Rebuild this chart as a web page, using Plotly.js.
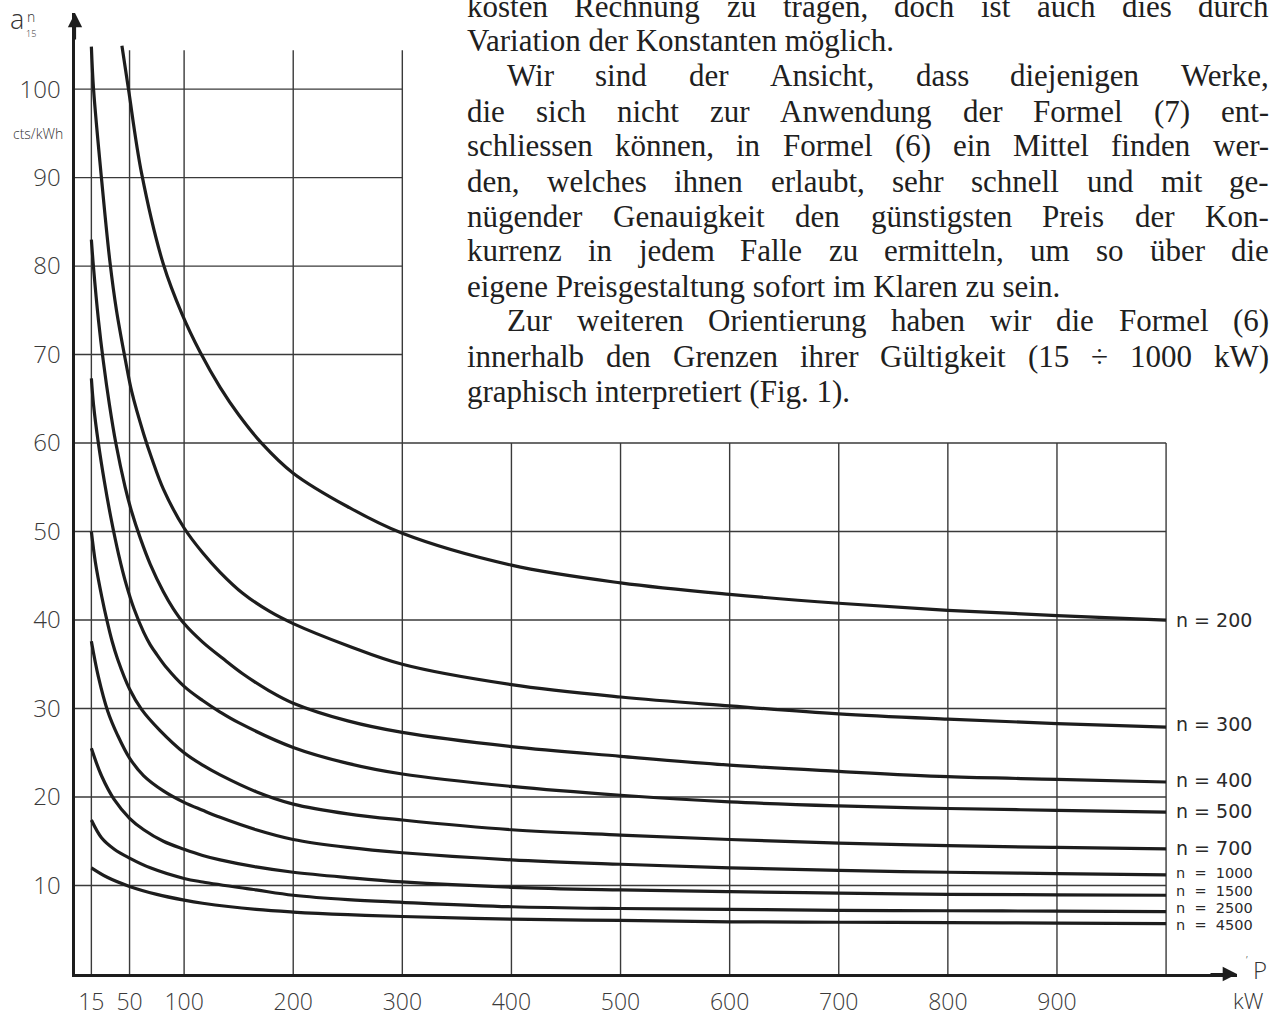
<!DOCTYPE html>
<html><head><meta charset="utf-8">
<script src="https://cdn.plot.ly/plotly-3.0.1.min.js"></script>
<style>html,body{margin:0;padding:0;background:#fff;} #chart{width:1281px;height:1018px;}</style>
</head><body><div id="chart"></div>
<script>
// ---- Data: P (kW) and a_n15 (cts/kWh) ----
const x200 = [43, 49, 61, 81, 98, 115, 133, 150, 171, 200, 250, 300, 400, 500, 600, 700, 800, 900, 1000];
const y200 = [104.9, 100, 90.5, 80.2, 74.6, 70.2, 66.3, 63.2, 60, 56.6, 52.8, 49.8, 46.2, 44.2, 42.9, 41.9, 41.1, 40.5, 40.0];

const x300 = [15, 17, 24.6, 32, 38, 46, 52, 63, 70, 81, 100, 117, 133, 154, 178, 200, 250, 300, 400, 500, 600, 700, 800, 900, 1000];
const y300 = [104.8, 100, 89.5, 80.5, 75, 69.5, 65.8, 61, 58.4, 54.8, 50.4, 47.6, 45.4, 43, 41, 39.6, 37.1, 35.0, 32.7, 31.3, 30.3, 29.4, 28.8, 28.3, 27.9];

const x400 = [15, 17, 21.5, 26, 31.6, 37.4, 46, 52, 60, 69, 81, 90, 100, 117, 135, 154, 178, 200, 250, 300, 400, 500, 600, 700, 800, 900, 1000];
const y400 = [83, 79.8, 73.9, 69.2, 64.3, 60, 55, 52.2, 49.2, 46.3, 43.2, 41.3, 39.6, 37.5, 35.7, 33.9, 32.0, 30.6, 28.6, 27.3, 25.7, 24.6, 23.6, 22.9, 22.3, 22.0, 21.7];

const x500 = [15, 17, 21.4, 27, 33, 40, 47, 54, 63, 69, 75, 84, 100, 117, 133, 150, 200, 250, 300, 400, 500, 600, 700, 800, 900, 1000];
const y500 = [67.3, 64.3, 60, 55.6, 51.5, 47.4, 44, 41.3, 38.6, 37.2, 36.1, 34.6, 32.5, 30.9, 29.6, 28.4, 25.6, 23.8, 22.6, 21.2, 20.2, 19.45, 19.0, 18.7, 18.5, 18.3];

const x700 = [15, 18.6, 24.6, 29, 34, 39, 50, 61, 78, 100, 117, 133, 166, 200, 250, 300, 400, 500, 600, 700, 800, 900, 1000];
const y700 = [50, 46.6, 42.6, 40.1, 37.6, 35.6, 32.2, 29.9, 27.5, 25.0, 23.6, 22.5, 20.6, 19.2, 18.1, 17.4, 16.3, 15.7, 15.2, 14.8, 14.5, 14.3, 14.15];

const x1000 = [15, 21.4, 30, 39, 50, 63, 81, 100, 117, 133, 166, 200, 250, 300, 400, 500, 600, 700, 800, 900, 1000];
const y1000 = [37.6, 33.6, 29.7, 27.0, 24.4, 22.4, 20.7, 19.4, 18.5, 17.7, 16.3, 15.2, 14.3, 13.7, 12.9, 12.4, 12.0, 11.7, 11.5, 11.35, 11.2];

const x1500 = [15, 24.3, 36, 50, 63, 81, 100, 117, 133, 166, 200, 250, 300, 400, 500, 600, 700, 800, 900, 1000];
const y1500 = [25.5, 22.4, 19.7, 17.6, 16.3, 15.0, 14.1, 13.4, 12.9, 12.1, 11.5, 10.9, 10.4, 9.8, 9.5, 9.3, 9.15, 9.0, 8.95, 8.9];

const x2500 = [15, 24.3, 36, 50, 69, 100, 117, 166, 200, 250, 300, 400, 500, 600, 700, 800, 900, 1000];
const y2500 = [17.4, 15.4, 14.1, 13.1, 12.0, 10.8, 10.4, 9.5, 8.9, 8.4, 8.1, 7.6, 7.4, 7.3, 7.2, 7.15, 7.1, 7.05];

const x4500 = [15, 30, 50, 75, 100, 117, 166, 200, 250, 300, 400, 500, 600, 700, 800, 900, 1000];
const y4500 = [12.0, 10.9, 9.9, 9.0, 8.35, 8.0, 7.3, 7.0, 6.7, 6.5, 6.2, 6.05, 5.9, 5.85, 5.8, 5.75, 5.7];

const seriesNames = ['n = 200', 'n = 300', 'n = 400', 'n = 500', 'n = 700', 'n = 1000', 'n = 1500', 'n = 2500', 'n = 4500'];
const seriesX = [x200, x300, x400, x500, x700, x1000, x1500, x2500, x4500];
const seriesY = [y200, y300, y400, y500, y700, y1000, y1500, y2500, y4500];

const xTickVals = [15, 50, 100, 200, 300, 400, 500, 600, 700, 800, 900];
const yTickVals = [10, 20, 30, 40, 50, 60, 70, 80, 90, 100];
const xGridAll = [15, 50, 100, 200, 300, 400, 500, 600, 700, 800, 900, 1000];
const xGridUpper = [15, 50, 100, 200, 300];
const yGridLower = [10, 20, 30, 40, 50, 60];
const yGridUpper = [70, 80, 90, 100];

const paragraphLines = [
  "kosten Rechnung zu tragen, doch ist auch dies durch",
  "Variation der Konstanten möglich.",
  "Wir sind der Ansicht, dass diejenigen Werke,",
  "die sich nicht zur Anwendung der Formel (7) ent-",
  "schliessen können, in Formel (6) ein Mittel finden wer-",
  "den, welches ihnen erlaubt, sehr schnell und mit ge-",
  "nügender Genauigkeit den günstigsten Preis der Kon-",
  "kurrenz in jedem Falle zu ermitteln, um so über die",
  "eigene Preisgestaltung sofort im Klaren zu sein.",
  "Zur weiteren Orientierung haben wir die Formel (6)",
  "innerhalb den Grenzen ihrer Gültigkeit (15 ÷ 1000 kW)",
  "graphisch interpretiert (Fig. 1)."
];

// ---- Layout / style ----
const L = 75, T = 13, W = 1162, H = 961;
const XMAX = 1065, YMAX = 108.6;
const ink = '#1d1d1d', gridCol = '#3a3a3a';
const sans = 'Open Sans, DejaVu Sans, sans-serif';
const px2paperX = px => (px - L) / W;
const px2paperY = py => (T + H - py) / H;

const traces = seriesX.map((xs, i) => ({
  type: 'scatter', mode: 'lines', x: xs, y: seriesY[i], name: seriesNames[i],
  line: {color: ink, width: 3.2, shape: 'spline', smoothing: 1.0},
  hoverinfo: 'skip'
}));

const shapes = [];
const gl = {color: gridCol, width: 1.4};
yGridLower.forEach(v => shapes.push({type: 'line', xref: 'x', yref: 'y', x0: 0, x1: 1000, y0: v, y1: v, line: gl, layer: 'below'}));
yGridUpper.forEach(v => shapes.push({type: 'line', xref: 'x', yref: 'y', x0: 0, x1: 300, y0: v, y1: v, line: gl, layer: 'below'}));
xGridAll.forEach(v => shapes.push({type: 'line', xref: 'x', yref: 'y', x0: v, x1: v, y0: 0, y1: 60, line: gl, layer: 'below'}));
xGridUpper.forEach(v => shapes.push({type: 'line', xref: 'x', yref: 'y', x0: v, x1: v, y0: 60, y1: 104.4, line: gl, layer: 'below'}));

const annotations = [];
// curve labels at the right-hand ends
const labelShift = [0, 3, 2, 1, 1, 2, 4, 3.6, -1.4];
const labelSize = [19, 19, 19, 19, 19, 14.5, 14.5, 14.5, 14.5];
const wide = [false, false, false, false, false, true, true, true, true];
seriesNames.forEach((nm, i) => {
  const ys = seriesY[i], xs = seriesX[i];
  const txt = wide[i] ? nm.replace(' = ', ' \u00a0=\u00a0 ') : nm;
  annotations.push({x: xs[xs.length - 1], y: ys[ys.length - 1], xref: 'x', yref: 'y', xanchor: 'left', yanchor: 'middle',
    xshift: 9, yshift: labelShift[i], text: txt, showarrow: false, borderpad: 0,
    font: {family: 'DejaVu Sans, sans-serif', size: labelSize[i], color: '#2a2a2a'}});
});
// axis arrows
annotations.push({x: XMAX, y: 0, xref: 'x', yref: 'y', ax: -28, ay: 0, showarrow: true, arrowhead: 2, arrowsize: 1.3, arrowwidth: 2.2, arrowcolor: ink, text: ''});
annotations.push({x: 0, y: YMAX, xref: 'x', yref: 'y', ax: 0, ay: 28, showarrow: true, arrowhead: 2, arrowsize: 1.3, arrowwidth: 2.2, arrowcolor: ink, text: ''});
// axis captions
const cap = (px, py, text, size) => ({x: px2paperX(px), y: px2paperY(py), xref: 'paper', yref: 'paper',
  xanchor: 'center', yanchor: 'middle', text: text, showarrow: false, borderpad: 0,
  font: {family: sans, size: size, color: '#333', weight: 300}});
annotations.push(cap(17, 18, 'a', 27));
annotations.push(cap(31, 17, 'n', 14));
annotations.push(cap(31, 33, '15', 9));
annotations.push(cap(38, 134, 'cts/kWh', 14));
annotations.push(cap(1260, 969, 'P', 24));
annotations.push(cap(1247, 959, '’', 11));
annotations.push(cap(1248, 1000, 'kW', 22));

// paragraph text, justified word by word
const textFamily = 'Liberation Serif';
const textSize = 31;
const cv = document.createElement('canvas').getContext('2d');
cv.font = textSize + "px '" + textFamily + "'";
const left = 466, right = 1268, indent = 40, base0 = 16, lead = 35;
const notJustified = [1, 8, 11];
const indented = [2, 9];
paragraphLines.forEach((line, k) => {
  const baseline = base0 + lead * k;
  const cy = baseline - 10;
  const x0 = left + (indented.includes(k) ? indent : 0);
  const tfont = {family: textFamily, size: textSize, color: '#202020'};
  if (notJustified.includes(k)) {
    annotations.push({x: px2paperX(x0), y: px2paperY(cy), xref: 'paper', yref: 'paper', xanchor: 'left', yanchor: 'middle',
      text: line, showarrow: false, borderpad: 0, font: tfont});
    return;
  }
  const words = line.split(' ');
  const widths = words.map(w => cv.measureText(w).width);
  const total = widths.reduce((a, b) => a + b, 0);
  const gap = (right - x0 - total) / (words.length - 1);
  let cx = x0;
  words.forEach((w, j) => {
    annotations.push({x: px2paperX(cx), y: px2paperY(cy), xref: 'paper', yref: 'paper', xanchor: 'left', yanchor: 'middle',
      text: w, showarrow: false, borderpad: 0, font: tfont});
    cx += widths[j] + gap;
  });
});

const layout = {
  width: 1281, height: 1018,
  margin: {l: L, r: 1281 - L - W, t: T, b: 1018 - T - H, pad: 0},
  paper_bgcolor: '#ffffff', plot_bgcolor: '#ffffff',
  showlegend: false,
  xaxis: {range: [0, XMAX], tickvals: xTickVals, ticktext: xTickVals.map(String), showgrid: false, zeroline: false,
    showline: true, linecolor: ink, linewidth: 2.6, ticks: '', ticklabelstandoff: 6,
    tickfont: {family: sans, size: 23, color: '#3a3a3a', weight: 300}, fixedrange: true},
  yaxis: {range: [0, YMAX], tickvals: yTickVals, ticktext: yTickVals.map(String), showgrid: false, zeroline: false,
    showline: true, linecolor: ink, linewidth: 2.6, ticks: '', ticklabelstandoff: 7,
    tickfont: {family: sans, size: 24, color: '#3a3a3a', weight: 300}, fixedrange: true},
  shapes: shapes,
  annotations: annotations
};

Plotly.newPlot('chart', traces, layout, {staticPlot: true, displayModeBar: false});
</script>
</body></html>
